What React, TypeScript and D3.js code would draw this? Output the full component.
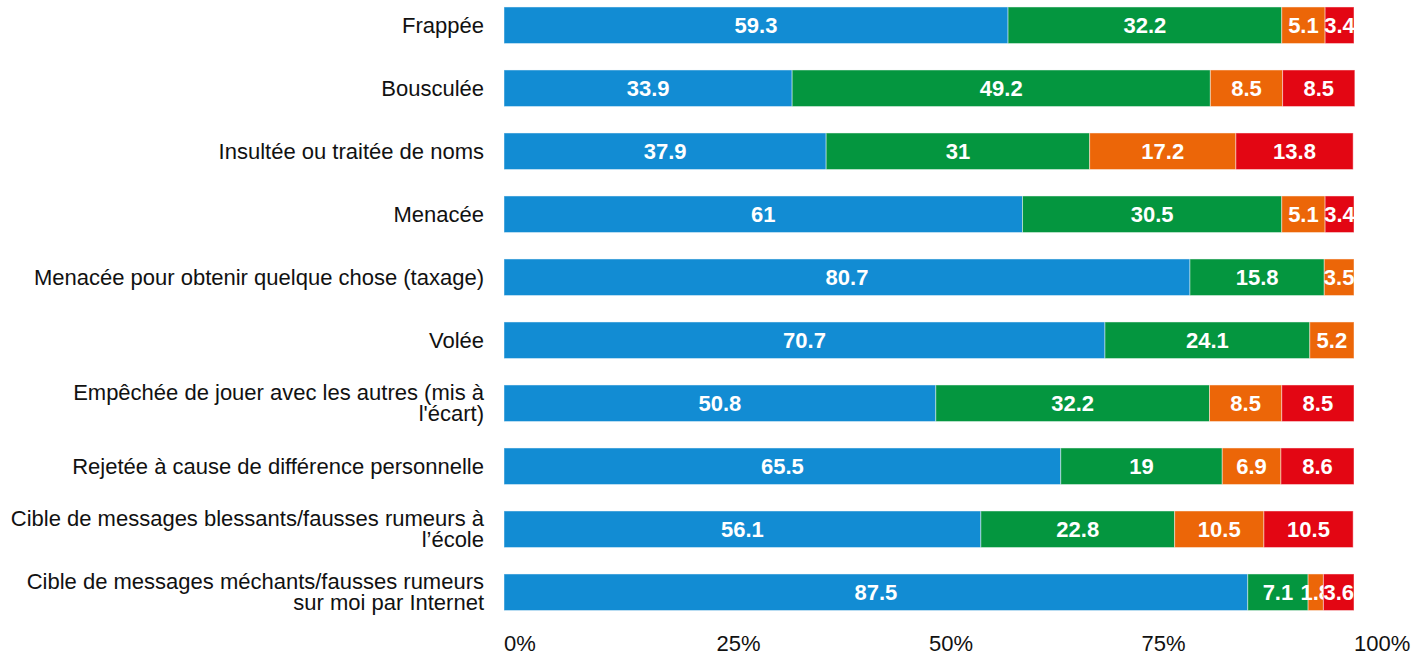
import React, { useMemo } from "react";
import * as d3 from "d3";

const categories: string[][] = [
  ["Frappée"],
  ["Bousculée"],
  ["Insultée ou traitée de noms"],
  ["Menacée"],
  ["Menacée pour obtenir quelque chose (taxage)"],
  ["Volée"],
  ["Empêchée de jouer avec les autres (mis à", "l'écart)"],
  ["Rejetée à cause de différence personnelle"],
  ["Cible de messages blessants/fausses rumeurs à", "l’école"],
  ["Cible de messages méchants/fausses rumeurs", "sur moi par Internet"],
];

const series1 = [59.3, 33.9, 37.9, 61, 80.7, 70.7, 50.8, 65.5, 56.1, 87.5];
const series2 = [32.2, 49.2, 31, 30.5, 15.8, 24.1, 32.2, 19, 22.8, 7.1];
const series3 = [5.1, 8.5, 17.2, 5.1, 3.5, 5.2, 8.5, 6.9, 10.5, 1.8];
const series4 = [3.4, 8.5, 13.8, 3.4, 0, 0, 8.5, 8.6, 10.5, 3.6];

const seriesColors = ["#128cd3", "#04963f", "#ec6608", "#e30613"];
const tickValues = [0, 25, 50, 75, 100];
const tickLabels = ["0%", "25%", "50%", "75%", "100%"];

const W = 1428;
const H = 658;
const FONT = "'Liberation Sans', Arial, sans-serif";
const FS = 22;
const LINE = 21;

export default function App() {
  const seriesList = [series1, series2, series3, series4];
  const x = d3.scaleLinear().domain([0, 100]).range([504, 1354]);
  const y = d3
    .scaleBand<number>()
    .domain(d3.range(categories.length))
    .range([-6.25, 623.75])
    .paddingInner(0.42)
    .paddingOuter(0.21);

  const stacks = useMemo(() => {
    return categories.map((_, i) => {
      let acc = 0;
      return seriesList.map((s, k) => {
        const v = s[i];
        const seg = { k, v, x0: acc, x1: acc + v };
        acc += v;
        return seg;
      });
    });
  }, []);

  return (
    <svg
      width={W}
      height={H}
      style={{ position: "absolute", left: 0, top: 0, fontFamily: FONT }}
    >
      {stacks.map((row, i) => {
        const cy = y(i)! + y.bandwidth() / 2;
        const n = categories[i].length;
        return (
          <g key={i}>
            {row.map((seg) =>
              seg.v > 0 ? (
                <g key={seg.k}>
                  <rect
                    x={x(seg.x0)}
                    y={y(i)!}
                    width={x(seg.x1) - x(seg.x0)}
                    height={y.bandwidth()}
                    fill={seriesColors[seg.k]}
                    stroke="rgba(255,255,255,0.45)"
                    strokeWidth={1}
                  />
                  <text
                    x={(x(seg.x0) + x(seg.x1)) / 2}
                    y={cy}
                    dy="0.35em"
                    textAnchor="middle"
                    fill="#fff"
                    fontWeight="bold"
                    fontSize={FS}
                  >
                    {seg.v}
                  </text>
                </g>
              ) : null
            )}
            {categories[i].map((line, li) => (
              <text
                key={li}
                x={484}
                y={cy + (li - (n - 1) / 2) * LINE}
                dy="0.35em"
                textAnchor="end"
                fontSize={FS}
                fill="#111"
              >
                {line}
              </text>
            ))}
          </g>
        );
      })}
      {tickValues.map((t, i) => (
        <text
          key={t}
          x={x(t)}
          y={651}
          textAnchor="start"
          fontSize={FS}
          fill="#111"
        >
          {tickLabels[i]}
        </text>
      ))}
    </svg>
  );
}
